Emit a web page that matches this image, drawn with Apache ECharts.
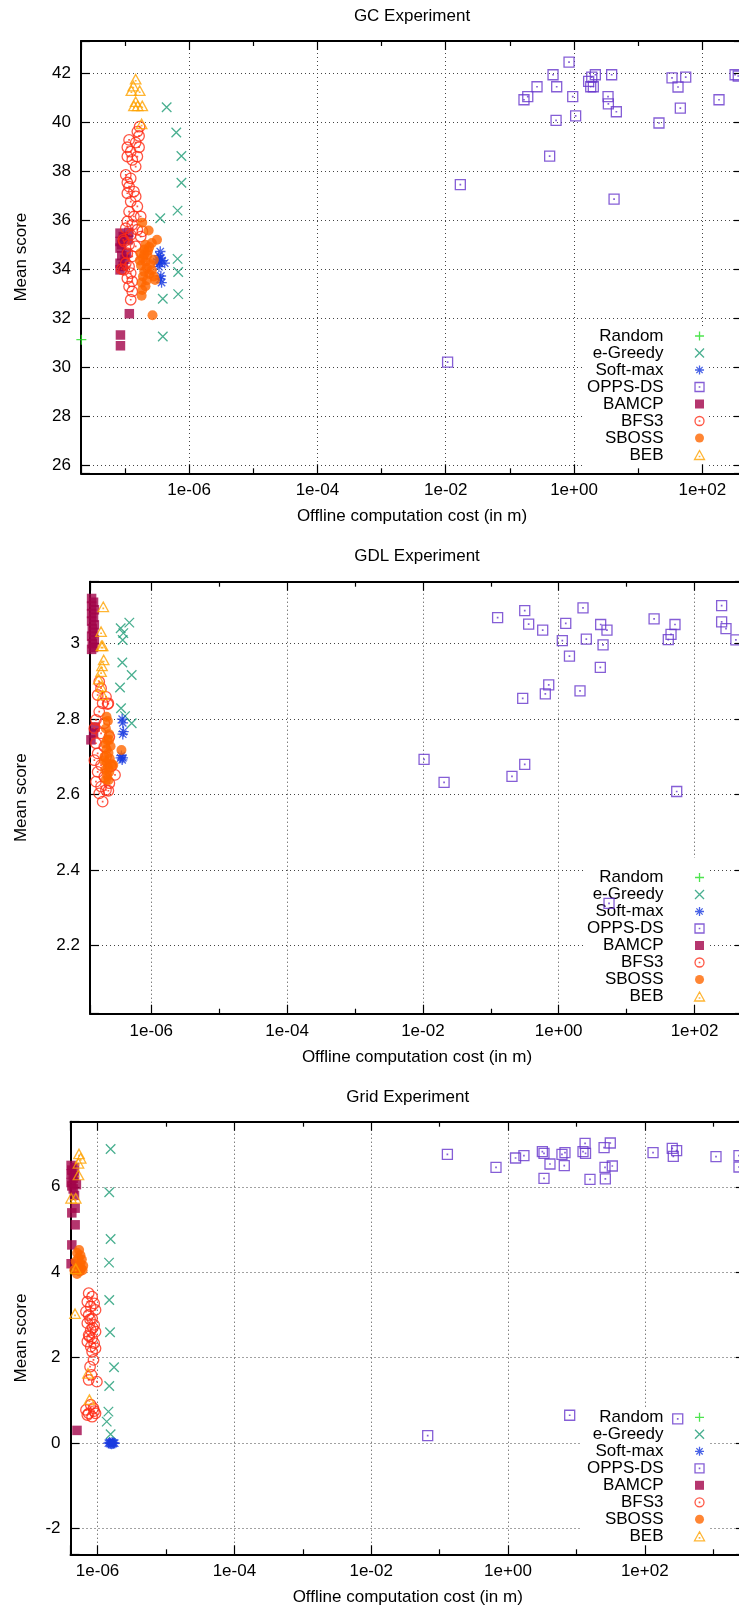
<!DOCTYPE html>
<html>
<head>
<meta charset="utf-8">
<title>Offline computation cost vs. mean score</title>
<script src="https://cdn.jsdelivr.net/npm/echarts@6.0.0/dist/echarts.min.js"></script>
<style>
  html, body { margin: 0; padding: 0; background: #ffffff; }
  #chart { width: 739px; height: 1609px; }
</style>
</head>
<body>
<div id="chart"></div>
<script>
// Algorithms, in legend / drawing order
const seriesNames = ['Random', 'e-Greedy', 'Soft-max', 'OPPS-DS', 'BAMCP', 'BFS3', 'SBOSS', 'BEB'];

// Each point: [offline computation cost (minutes), mean score]

// ---- GC experiment ----
const gcRandom = [[2.09e-8, 31.12]];
const gcEGreedy = [[4.47e-7, 40.61], [6.31e-7, 39.58], [7.59e-7, 38.62], [7.59e-7, 37.53], [6.61e-7, 36.39],
  [3.55e-7, 36.08], [6.61e-7, 34.42], [6.76e-7, 33.88], [6.76e-7, 32.98], [3.89e-7, 32.79], [3.89e-7, 31.25]];
const gcSoftMax = [[3.55e-7, 34.72], [3.39e-7, 34.55], [3.63e-7, 34.45], [3.31e-7, 34.38], [3.80e-7, 34.35],
  [4.17e-7, 34.25], [3.47e-7, 34.25], [3.16e-7, 34.30], [3.39e-7, 34.10], [3.63e-7, 33.72], [3.55e-7, 33.60],
  [3.72e-7, 33.45]];
const gcOppsDs = [[0.836, 42.46], [0.471, 41.94], [3.86, 41.94], [2.15, 41.94], [1.89, 41.84], [1.69, 41.67],
  [2.00, 41.45], [1.82, 41.45], [0.265, 41.45], [0.537, 41.45], [0.190, 41.05], [0.166, 40.92], [0.955, 41.05],
  [3.39, 41.05], [3.43, 40.75], [4.57, 40.43], [0.525, 40.08], [1.06, 40.26], [0.417, 38.62], [0.0169, 37.45],
  [4.21, 36.86], [0.0107, 30.20], [33.7, 41.81], [55.1, 41.84], [41.8, 41.44], [45.4, 40.58], [21.1, 39.97],
  [182, 40.92], [324, 41.94], [363, 41.89]];
const gcBamcp = [[8.38e-8, 35.47], [8.38e-8, 35.13], [9.42e-8, 35.33], [8.38e-8, 34.86], [1.06e-7, 34.65],
  [8.38e-8, 34.24], [8.38e-8, 33.97], [9.42e-8, 34.11], [1.15e-7, 35.50], [1.12e-7, 35.20], [8.91e-8, 35.00],
  [1.00e-7, 34.40], [8.91e-8, 34.55], [1.17e-7, 32.18], [8.51e-8, 31.31], [8.51e-8, 30.87]];
const gcBfs3 = [[1.69e-7, 39.82], [1.56e-7, 39.62], [1.66e-7, 39.44], [1.16e-7, 39.28], [1.47e-7, 39.17],
  [1.66e-7, 38.98], [1.09e-7, 38.98], [1.23e-7, 38.80], [1.09e-7, 38.60], [1.56e-7, 38.60], [1.30e-7, 38.46],
  [1.47e-7, 38.19], [1.03e-7, 37.85], [1.23e-7, 37.71], [1.09e-7, 37.54], [1.16e-7, 37.37], [1.38e-7, 37.17],
  [1.09e-7, 37.10], [1.47e-7, 36.97], [1.23e-7, 36.76], [1.56e-7, 36.56], [1.16e-7, 36.35], [1.38e-7, 36.15],
  [1.76e-7, 36.15], [1.09e-7, 35.95], [1.30e-7, 35.81], [1.03e-7, 35.67], [1.56e-7, 35.61], [1.87e-7, 35.54],
  [1.23e-7, 35.40], [1.76e-7, 35.33], [9.66e-8, 35.13], [1.16e-7, 35.00], [1.47e-7, 34.93], [1.09e-7, 34.65],
  [1.30e-7, 34.52], [1.03e-7, 34.24], [1.16e-7, 34.11], [9.66e-8, 33.97], [1.23e-7, 33.84], [1.09e-7, 33.63],
  [1.30e-7, 33.50], [1.16e-7, 33.29], [1.30e-7, 33.09], [1.23e-7, 32.75], [9.42e-8, 35.20], [8.91e-8, 34.00]];
const gcSboss = [[1.86e-7, 35.90], [2.34e-7, 35.58], [3.16e-7, 35.20], [2.63e-7, 35.07], [2.09e-7, 35.00],
  [2.40e-7, 34.90], [2.00e-7, 34.80], [1.74e-7, 34.65], [2.24e-7, 34.58], [2.82e-7, 34.38], [1.91e-7, 34.45],
  [2.09e-7, 34.30], [2.51e-7, 34.20], [1.78e-7, 34.15], [2.19e-7, 34.05], [2.63e-7, 33.95], [2.00e-7, 33.90],
  [2.40e-7, 33.80], [2.82e-7, 33.70], [1.91e-7, 33.70], [2.95e-7, 33.56], [2.19e-7, 33.55], [1.82e-7, 33.45],
  [2.09e-7, 33.30], [1.86e-7, 33.15], [1.82e-7, 32.91], [2.69e-7, 32.12], [2.00e-7, 34.60], [2.29e-7, 34.75],
  [1.70e-7, 34.35]];
const gcBeb = [[1.47e-7, 41.76], [1.35e-7, 41.48], [1.70e-7, 41.29], [1.26e-7, 41.29], [1.47e-7, 40.84],
  [1.58e-7, 40.67], [1.86e-7, 40.67], [1.38e-7, 40.67], [1.82e-7, 39.93]];

// ---- GDL experiment ----
const gdlEGreedy = [[4.74e-7, 3.056], [3.54e-7, 3.041], [3.87e-7, 3.028], [3.79e-7, 3.010], [3.74e-7, 2.950],
  [5.14e-7, 2.917], [3.46e-7, 2.884], [3.58e-7, 2.829], [4.10e-7, 2.808], [5.14e-7, 2.789]];
const gdlSoftMax = [[3.72e-7, 2.800], [3.80e-7, 2.790], [3.89e-7, 2.767], [3.80e-7, 2.760], [3.63e-7, 2.703],
  [3.55e-7, 2.697], [3.80e-7, 2.697], [3.72e-7, 2.692]];
const gdlOppsDs = [[0.126, 3.069], [0.316, 3.088], [0.361, 3.052], [0.581, 3.036], [1.27, 3.054], [2.28, 3.095],
  [1.13, 3.008], [2.55, 3.012], [4.15, 3.051], [5.14, 3.036], [4.50, 2.997], [1.44, 2.967], [4.10, 2.937],
  [0.713, 2.891], [0.635, 2.867], [0.295, 2.855], [2.06, 2.875], [25.4, 3.066], [51.6, 3.051], [45.1, 3.025],
  [41.1, 3.011], [251, 3.101], [251, 3.058], [291, 3.040], [407, 3.010], [0.0104, 2.693], [0.0205, 2.632],
  [0.316, 2.680], [0.205, 2.648], [54.7, 2.608], [5.51, 2.311]];
const gdlBamcp = [[1.32e-7, 3.120], [1.41e-7, 3.110], [1.32e-7, 3.100], [1.45e-7, 3.090], [1.32e-7, 3.080],
  [1.41e-7, 3.070], [1.32e-7, 3.060], [1.45e-7, 3.050], [1.35e-7, 3.040], [1.41e-7, 3.030], [1.32e-7, 3.020],
  [1.45e-7, 3.010], [1.35e-7, 3.000], [1.41e-7, 2.990], [1.32e-7, 2.985], [1.48e-7, 2.779], [1.29e-7, 2.745],
  [1.41e-7, 2.763]];
const gdlBfs3 = [[1.71e-7, 2.899], [1.82e-7, 2.882], [1.62e-7, 2.864], [2.15e-7, 2.859], [1.92e-7, 2.842],
  [2.28e-7, 2.840], [1.71e-7, 2.820], [1.53e-7, 2.798], [2.03e-7, 2.789], [1.45e-7, 2.776], [1.82e-7, 2.762],
  [2.41e-7, 2.753], [1.53e-7, 2.736], [2.03e-7, 2.727], [1.62e-7, 2.709], [2.15e-7, 2.700], [1.45e-7, 2.691],
  [1.82e-7, 2.678], [2.55e-7, 2.674], [1.62e-7, 2.660], [2.03e-7, 2.647], [1.53e-7, 2.634], [2.41e-7, 2.630],
  [1.82e-7, 2.621], [2.15e-7, 2.612], [1.71e-7, 2.603], [2.33e-7, 2.610], [1.92e-7, 2.581], [2.92e-7, 2.652],
  [2.33e-7, 2.842]];
const gdlSboss = [[2.19e-7, 2.806], [2.29e-7, 2.795], [2.14e-7, 2.775], [2.40e-7, 2.760], [2.24e-7, 2.745],
  [2.09e-7, 2.735], [2.51e-7, 2.728], [2.19e-7, 2.720], [2.34e-7, 2.710], [2.04e-7, 2.700], [2.45e-7, 2.695],
  [2.19e-7, 2.685], [2.63e-7, 2.680], [2.29e-7, 2.672], [2.09e-7, 2.665], [2.40e-7, 2.660], [2.24e-7, 2.650],
  [2.14e-7, 2.640], [2.34e-7, 2.638], [3.63e-7, 2.718], [2.75e-7, 2.678], [2.00e-7, 2.690], [2.40e-7, 2.745]];
const gdlBeb = [[1.96e-7, 3.098], [1.82e-7, 3.032], [1.92e-7, 2.994], [1.84e-7, 2.994], [1.99e-7, 2.957],
  [1.88e-7, 2.941], [1.82e-7, 2.926], [1.68e-7, 2.906], [1.82e-7, 2.886], [1.92e-7, 2.864]];

// ---- Grid experiment ----
const gridEGreedy = [[1.55e-6, 6.884], [1.48e-6, 5.871], [1.55e-6, 4.779], [1.47e-6, 4.225], [1.48e-6, 3.352],
  [1.52e-6, 2.596], [1.74e-6, 1.778], [1.48e-6, 1.340], [1.44e-6, 0.739], [1.36e-6, 0.505], [1.55e-6, 0.210]];
const gridSoftMax = [[1.44e-6, 0.00], [1.50e-6, 0.02], [1.55e-6, 0.00], [1.60e-6, -0.02], [1.66e-6, 0.00],
  [1.72e-6, 0.01], [1.78e-6, 0.00], [1.52e-6, -0.01], [1.69e-6, -0.01], [1.63e-6, 0.02]];
const gridOppsDs = [[0.130, 6.760], [0.668, 6.456], [1.29, 6.674], [1.71, 6.728], [3.18, 6.821], [3.36, 6.784],
  [4.11, 6.533], [3.36, 6.199], [6.15, 6.760], [6.81, 6.798], [6.65, 6.494], [13.4, 7.018], [12.5, 6.821],
  [13.6, 6.784], [15.8, 6.175], [25.4, 6.915], [31.3, 7.025], [26.2, 6.456], [33.5, 6.487], [26.5, 6.183],
  [132, 6.798], [252, 6.901], [292, 6.845], [261, 6.713], [1099, 6.704], [2382, 6.728], [2382, 6.463],
  [7.98, 0.655], [0.0670, 0.178], [303, 0.568]];
const gridBamcp = [[4.1e-7, 6.50], [4.6e-7, 6.45], [4.2e-7, 6.39], [4.1e-7, 6.30], [4.6e-7, 6.25], [4.4e-7, 6.20],
  [4.1e-7, 6.10], [4.9e-7, 6.05], [4.2e-7, 6.02], [4.4e-7, 5.95], [4.6e-7, 5.80], [4.7e-7, 5.50], [4.2e-7, 5.39],
  [4.7e-7, 5.11], [4.2e-7, 4.64], [4.1e-7, 4.20], [5.0e-7, 0.30]];
const gridBfs3 = [[7.41e-7, 3.51], [8.32e-7, 3.43], [7.08e-7, 3.31], [8.91e-7, 3.27], [7.94e-7, 3.20],
  [6.76e-7, 3.08], [9.33e-7, 3.12], [7.41e-7, 3.00], [8.32e-7, 2.92], [7.08e-7, 2.81], [8.91e-7, 2.77],
  [7.94e-7, 2.65], [9.33e-7, 2.61], [7.41e-7, 2.53], [8.32e-7, 2.46], [7.08e-7, 2.38], [8.91e-7, 2.34],
  [7.94e-7, 2.26], [9.33e-7, 2.22], [8.32e-7, 2.14], [7.59e-7, 2.50], [8.51e-7, 2.70], [7.76e-7, 2.90],
  [8.71e-7, 1.95], [7.76e-7, 1.79], [8.13e-7, 1.60], [7.41e-7, 1.48], [9.77e-7, 1.44], [6.76e-7, 0.78],
  [7.94e-7, 0.90], [8.71e-7, 0.82], [7.41e-7, 0.70], [9.33e-7, 0.70], [8.32e-7, 0.62], [7.08e-7, 0.66],
  [8.91e-7, 0.75]];
const gridSboss = [[5.37e-7, 4.52], [5.01e-7, 4.45], [5.62e-7, 4.40], [5.25e-7, 4.33], [5.89e-7, 4.30],
  [4.79e-7, 4.25], [5.62e-7, 4.21], [6.17e-7, 4.15], [5.13e-7, 4.13], [5.75e-7, 4.09], [4.57e-7, 4.05],
  [5.50e-7, 4.02], [5.01e-7, 3.96], [6.03e-7, 4.05]];
const gridBeb = [[5.35e-7, 6.768], [5.66e-7, 6.666], [5.25e-7, 6.549], [5.25e-7, 6.276], [4.1e-7, 5.73],
  [4.79e-7, 5.73], [4.79e-7, 4.08], [4.68e-7, 3.03], [7.24e-7, 1.637], [7.59e-7, 1.02]];

// ---- Presentation ----
const FONT = '"Liberation Sans", Arial, Helvetica, sans-serif';
const DOT = 'M4.8,4.8H5.2V5.2H4.8Z';
const MARKS = {
  'Random':   { symbol: 'path://M0,5H10M5,0V10', size: 10, color: '#22dd22', open: true },
  'e-Greedy': { symbol: 'path://M0,0L10,10M10,0L0,10', size: 9.5, color: '#1b9b74', open: true },
  'Soft-max': { symbol: 'path://M0,5H10M5,0V10M1.5,1.5L8.5,8.5M8.5,1.5L1.5,8.5', size: 10.5, color: '#1a3be0', open: true },
  'OPPS-DS':  { symbol: 'path://M0,0H10V10H0Z' + DOT, size: 10, color: '#6636cc', open: true },
  'BAMCP':    { symbol: 'path://M0,0H10V10H0Z', size: 9.5, color: '#a3044a', open: false },
  'BFS3':     { symbol: 'path://M10,5A5,5,0,1,1,0,5A5,5,0,1,1,10,5Z' + DOT, size: 10.5, color: '#ff2a14', open: true },
  'SBOSS':    { symbol: 'circle', size: 10, color: '#ff6600', open: false },
  'BEB':      { symbol: 'path://M5,0L10,9H0ZM4.8,5.8H5.2V6.2H4.8Z', size: [10.5, 9.5], color: '#ffa200', open: true }
};
const STROKE = 1.3;

const panels = [
  {
    title: 'GC Experiment', titleTop: 8,
    rect: { left: 81, top: 41, width: 662, height: 432.3 },
    xRange: [-7.685, 2.634], yRange: [25.661, 43.319], yStep: 2, yNameGap: 51,
    legend: { left: 583, top: 326.5, padding: [1, 2, 5, 4] },
    data: { 'Random': gcRandom, 'e-Greedy': gcEGreedy, 'Soft-max': gcSoftMax, 'OPPS-DS': gcOppsDs,
            'BAMCP': gcBamcp, 'BFS3': gcBfs3, 'SBOSS': gcSboss, 'BEB': gcBeb }
  },
  {
    title: 'GDL Experiment', titleTop: 548,
    rect: { left: 90, top: 581.7, width: 654, height: 432 },
    xRange: [-6.903, 2.729], yRange: [2.0186, 3.1645], yStep: 0.2, yNameGap: 60.3,
    legend: { left: 583, top: 858, padding: [11, 2, 5, 4] },
    data: { 'e-Greedy': gdlEGreedy, 'Soft-max': gdlSoftMax, 'OPPS-DS': gdlOppsDs,
            'BAMCP': gdlBamcp, 'BFS3': gdlBfs3, 'SBOSS': gdlSboss, 'BEB': gdlBeb }
  },
  {
    title: 'Grid Experiment', titleTop: 1089,
    rect: { left: 70.5, top: 1121.7, width: 674.5, height: 432.6 },
    xRange: [-6.396, 3.465], yRange: [-2.599, 7.523], yStep: 2, yNameGap: 40.8,
    legend: { left: 581, top: 1407.8, padding: [1, 2, 5, 6] },
    data: { 'e-Greedy': gridEGreedy, 'Soft-max': gridSoftMax, 'OPPS-DS': gridOppsDs,
            'BAMCP': gridBamcp, 'BFS3': gridBfs3, 'SBOSS': gridSboss, 'BEB': gridBeb }
  }
];

const textStyle = { fontFamily: FONT, fontSize: 17, color: '#000', fontWeight: 'normal' };
const borderLine = { color: '#000', width: 2 };
const tickLine = { color: '#000', width: 1.2 };
const gridDots = { color: '#444', width: 1, type: [1, 3] };

// Cost axis is drawn in decades: labels like 1e-06 on every second decade
function decadeLabel(v) {
  const e = Math.round(v);
  if (Math.abs(v - e) > 1e-6 || e % 2 !== 0) return '';
  return '1e' + (e < 0 ? '-' : '+') + String(Math.abs(e)).padStart(2, '0');
}
function stepLabel(step) {
  return function (v) {
    const k = v / step;
    if (Math.abs(k - Math.round(k)) > 1e-6) return '';
    return String(+(Math.round(k) * step).toFixed(4));
  };
}

const option = {
  animation: false,
  backgroundColor: '#ffffff',
  title: [], grid: [], xAxis: [], yAxis: [], legend: [], series: []
};

panels.forEach(function (p, i) {
  option.title.push({
    text: p.title,
    left: p.rect.left + p.rect.width / 2, top: p.titleTop,
    textAlign: 'center', textVerticalAlign: 'top', padding: 0,
    textStyle: textStyle
  });
  option.grid.push({
    left: p.rect.left, top: p.rect.top, width: p.rect.width, height: p.rect.height,
    containLabel: false, outerBoundsMode: 'none'
  });

  // bottom cost axis (labels, ticks, frame)
  option.xAxis.push({
    type: 'value', gridIndex: i, position: 'bottom', z: 3,
    min: p.xRange[0], max: p.xRange[1], minInterval: 2, maxInterval: 2,
    name: 'Offline computation cost (in m)', nameLocation: 'middle', nameGap: 35,
    nameTextStyle: textStyle,
    axisLine: { show: true, onZero: false, lineStyle: borderLine },
    axisTick: { show: true, inside: true, length: 9, lineStyle: tickLine },
    minorTick: { show: true, splitNumber: 2, length: 5, lineStyle: tickLine },
    axisLabel: Object.assign({ margin: 9, formatter: decadeLabel, hideOverlap: false }, textStyle),
    splitLine: { show: false }
  });
  // top mirror axis, carries the vertical grid lines
  option.xAxis.push({
    type: 'value', gridIndex: i, position: 'top', z: 0,
    min: p.xRange[0], max: p.xRange[1], minInterval: 2, maxInterval: 2,
    axisLine: { show: true, onZero: false, lineStyle: borderLine },
    axisTick: { show: true, inside: true, length: 9, lineStyle: tickLine },
    minorTick: { show: true, splitNumber: 2, length: 5, lineStyle: tickLine },
    axisLabel: { show: false },
    splitLine: { show: true, lineStyle: gridDots }
  });

  // left score axis (labels, ticks, horizontal grid lines)
  option.yAxis.push({
    type: 'value', gridIndex: i, position: 'left', z: 0,
    min: p.yRange[0], max: p.yRange[1], minInterval: p.yStep, maxInterval: p.yStep,
    name: 'Mean score', nameLocation: 'middle', nameGap: p.yNameGap, nameRotate: 90,
    nameTextStyle: textStyle,
    axisLine: { show: true, onZero: false, lineStyle: borderLine },
    axisTick: { show: true, inside: true, length: 9, lineStyle: tickLine },
    axisLabel: Object.assign({ margin: 10, formatter: stepLabel(p.yStep), hideOverlap: false }, textStyle),
    splitLine: { show: true, lineStyle: gridDots }
  });
  // right mirror axis
  option.yAxis.push({
    type: 'value', gridIndex: i, position: 'right', z: 3,
    min: p.yRange[0], max: p.yRange[1], minInterval: p.yStep, maxInterval: p.yStep,
    axisLine: { show: true, onZero: false, lineStyle: borderLine },
    axisTick: { show: true, inside: true, length: 9, lineStyle: tickLine },
    axisLabel: { show: false },
    splitLine: { show: false }
  });

  option.legend.push({
    z: 1, orient: 'vertical', align: 'right',
    left: p.legend.left, top: p.legend.top, padding: p.legend.padding,
    itemGap: 0, itemWidth: 62, itemHeight: 9,
    backgroundColor: '#ffffff', selectedMode: false,
    textStyle: textStyle,
    data: seriesNames.map(function (n) {
      return { name: n, itemStyle: { borderWidth: MARKS[n].open ? STROKE : 0 } };
    })
  });

  seriesNames.forEach(function (name) {
    const pts = p.data[name];
    if (!pts || !pts.length) return;
    const m = MARKS[name];
    option.series.push({
      type: 'scatter', name: name,
      xAxisIndex: 2 * i, yAxisIndex: 2 * i,
      clip: false,
      symbol: m.symbol, symbolSize: m.size,
      itemStyle: m.open
        ? { color: 'none', borderColor: m.color, borderWidth: STROKE }
        : { color: m.color, borderColor: m.color, borderWidth: 0 },
      emphasis: { disabled: true },
      data: pts.map(function (d) { return [Math.log10(d[0]), d[1]]; })
    });
  });
});

const chart = echarts.init(document.getElementById('chart'), null, { renderer: 'canvas' });
chart.setOption(option);
</script>
</body>
</html>
